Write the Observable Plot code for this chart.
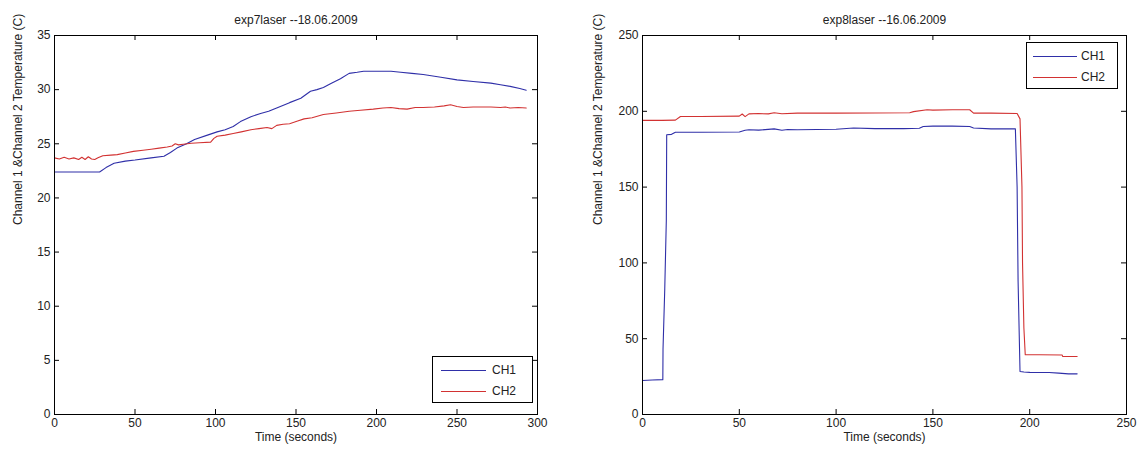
<!DOCTYPE html>
<html>
<head>
<meta charset="utf-8">
<script src="https://cdn.jsdelivr.net/npm/d3@7"></script>
<script src="https://cdn.jsdelivr.net/npm/@observablehq/plot@0.6"></script>
<style>
  html, body { margin: 0; padding: 0; background: #fff; }
  #wrap { position: relative; width: 1142px; height: 456px; display: flex; font-family: "Liberation Sans", Arial, sans-serif; }
  #wrap > svg { flex: none; }
  .legend { position: absolute; }
</style>
</head>
<body>
<div id="wrap"></div>
<script>
// ---------- Chart 1: exp7laser --18.06.2009 ----------
const exp7Title = "exp7laser --18.06.2009";
const exp7XTicks = [0, 50, 100, 150, 200, 250, 300];
const exp7YTicks = [0, 5, 10, 15, 20, 25, 30, 35];
const exp7Ch1Time = [0, 10, 20, 28, 32, 37, 44, 50, 60, 68, 72, 76, 82, 87, 95, 101, 106, 111, 115.5, 122, 128, 133, 138, 146, 153, 159, 163, 167, 172, 177.6, 183, 188, 192, 200, 209, 215, 222, 229, 240, 250, 260, 271, 277, 283, 289, 293];
const exp7Ch1Temp = [22.4, 22.4, 22.4, 22.4, 22.8, 23.2, 23.4, 23.5, 23.7, 23.85, 24.2, 24.6, 25.0, 25.4, 25.8, 26.1, 26.3, 26.6, 27.05, 27.5, 27.8, 28.0, 28.3, 28.8, 29.2, 29.85, 30.0, 30.2, 30.6, 31.0, 31.5, 31.6, 31.7, 31.7, 31.7, 31.6, 31.5, 31.4, 31.15, 30.9, 30.75, 30.6, 30.45, 30.3, 30.1, 29.95];
const exp7Ch2Time = [0, 3, 6, 9, 12, 15, 17, 19, 21, 23, 25, 27, 30, 35, 39, 44, 49, 55, 60, 65, 70, 73, 75, 77, 80, 85, 90, 97, 99, 101, 106, 111, 116, 122, 127, 132, 135, 138, 142, 146, 151, 155, 160, 167, 175, 183, 190, 198, 204, 209, 214, 219, 224, 229, 236, 242, 246, 250, 254, 260, 265, 271, 277, 280, 283, 288, 293];
const exp7Ch2Temp = [23.7, 23.6, 23.75, 23.6, 23.7, 23.55, 23.75, 23.55, 23.8, 23.6, 23.55, 23.7, 23.9, 23.95, 24.0, 24.15, 24.3, 24.4, 24.5, 24.6, 24.7, 24.8, 25.0, 24.9, 24.95, 25.05, 25.1, 25.15, 25.5, 25.7, 25.8, 25.95, 26.1, 26.3, 26.4, 26.5, 26.4, 26.7, 26.8, 26.85, 27.1, 27.3, 27.4, 27.7, 27.85, 28.0, 28.1, 28.2, 28.3, 28.35, 28.25, 28.2, 28.35, 28.35, 28.4, 28.5, 28.6, 28.45, 28.35, 28.4, 28.4, 28.4, 28.35, 28.4, 28.3, 28.35, 28.3];

// ---------- Chart 2: exp8laser --16.06.2009 ----------
const exp8Title = "exp8laser --16.06.2009";
const exp8XTicks = [0, 50, 100, 150, 200, 250];
const exp8YTicks = [0, 50, 100, 150, 200, 250];
const exp8Ch1Time = [0, 5, 10.5, 10.6, 11.5, 12.3, 12.5, 15, 17, 30, 50, 53, 55, 60, 68, 72, 75, 80, 90, 100, 109, 120, 135, 143, 145, 150, 160, 169, 171, 180, 192.6, 193.5, 194, 195, 197, 200, 210, 215, 220, 224.5];
const exp8Ch1Temp = [22.4, 22.8, 23, 43, 83, 128, 184.5, 184.8, 186.2, 186.2, 186.3, 187.5, 187.8, 187.6, 188.4, 187.5, 188.0, 187.8, 188, 188.2, 189, 188.6, 188.6, 188.8, 190, 190.2, 190.2, 190, 189, 188.4, 188.4, 150, 88, 28.4, 28, 27.8, 27.7, 27.3, 26.8, 26.8];
const exp8Ch2Time = [0, 10, 17, 19.6, 30, 50, 51.5, 53, 55, 60, 65, 68, 72, 80, 100, 120, 138, 140, 147, 150, 160, 169, 171, 180, 193.5, 195, 196, 196.3, 197, 197.7, 205, 216.8, 217, 224.5];
const exp8Ch2Temp = [194, 194, 194.2, 196.6, 196.6, 196.8, 198.2, 196.5, 198.3, 198.5, 198.3, 199, 198.4, 198.8, 198.8, 198.9, 199, 199.8, 201, 200.8, 201, 201, 198.8, 198.8, 198.5, 195, 150, 100, 57, 39.4, 39.4, 39.2, 38.3, 38.3];

const seriesNames = ["CH1", "CH2"];
const seriesColors = ["#2f2fa8", "#d23232"];
const yLabel = "Channel 1 &Channel 2 Temperature (C)";
const xLabel = "Time (seconds)";

function rows(time, temp, series) {
  return time.map((t, i) => ({t, v: temp[i], series}));
}

const FONT = "Liberation Sans, Arial, Helvetica, sans-serif";
const W = 571, H = 456, MT = 35, MB = 42, TICK = 5;

function makeChart({title, xTicks, yTicks, marginLeft, marginRight, yLabelDx, data}) {
  const innerW = W - marginLeft - marginRight;
  const innerH = H - MT - MB;
  return Plot.plot({
    width: W,
    height: H,
    marginLeft,
    marginRight,
    marginTop: MT,
    marginBottom: MB,
    style: {fontFamily: FONT, fontSize: "12px", color: "#222", background: "#fff", overflow: "visible"},
    x: {domain: [xTicks[0], xTicks[xTicks.length - 1]], label: null},
    y: {domain: [yTicks[0], yTicks[yTicks.length - 1]], label: null},
    color: {domain: seriesNames, range: seriesColors},
    marks: [
      Plot.line(data, {x: "t", y: "v", stroke: "series", z: "series", strokeWidth: 1.1, curve: "linear"}),
      Plot.frame({stroke: "#000", strokeWidth: 1}),
      // inward ticks on all four sides (MATLAB style)
      Plot.tickX(xTicks, {x: d => d, stroke: "#000", insetTop: innerH - TICK}),
      Plot.tickX(xTicks, {x: d => d, stroke: "#000", insetBottom: innerH - TICK}),
      Plot.tickY(yTicks, {y: d => d, stroke: "#000", insetRight: innerW - TICK}),
      Plot.tickY(yTicks, {y: d => d, stroke: "#000", insetLeft: innerW - TICK}),
      Plot.axisX({ticks: xTicks, tickSize: 0, tickPadding: 4, fontSize: 12, fill: "#222", label: null, tickFormat: d => String(d)}),
      Plot.axisY({ticks: yTicks, tickSize: 0, tickPadding: 4, fontSize: 12, fill: "#222", label: null, tickFormat: d => String(d)}),
      Plot.text([title], {frameAnchor: "top", lineAnchor: "middle", dy: -15, fontSize: 12, fill: "#222"}),
      Plot.text([xLabel], {frameAnchor: "bottom", lineAnchor: "middle", dy: 23, fontSize: 12, fill: "#222"}),
      Plot.text([yLabel], {frameAnchor: "left", dx: yLabelDx, rotate: -90, fontSize: 12, fill: "#222"})
    ]
  });
}

const wrap = document.getElementById("wrap");

const chart1 = makeChart({
  title: exp7Title, xTicks: exp7XTicks, yTicks: exp7YTicks,
  marginLeft: 54, marginRight: 34, yLabelDx: -36,
  data: [...rows(exp7Ch1Time, exp7Ch1Temp, "CH1"), ...rows(exp7Ch2Time, exp7Ch2Temp, "CH2")]
});
const chart2 = makeChart({
  title: exp8Title, xTicks: exp8XTicks, yTicks: exp8YTicks,
  marginLeft: 71, marginRight: 16, yLabelDx: -44,
  data: [...rows(exp8Ch1Time, exp8Ch1Temp, "CH1"), ...rows(exp8Ch2Time, exp8Ch2Temp, "CH2")]
});
wrap.appendChild(chart1);
wrap.appendChild(chart2);

// ---------- Legends (MATLAB-style boxed) ----------
function addLegend(left, top, w, h, lineX1, lineX2, textX) {
  const svg = d3.select(wrap).append("svg")
    .attr("class", "legend")
    .style("left", left + "px").style("top", top + "px")
    .attr("width", w + 1).attr("height", h + 1);
  svg.append("rect").attr("x", 0.5).attr("y", 0.5).attr("width", w - 1).attr("height", h - 1)
    .attr("fill", "#fff").attr("stroke", "#000");
  seriesNames.forEach((name, i) => {
    const cy = 14 + i * 21;
    svg.append("line").attr("x1", lineX1).attr("x2", lineX2).attr("y1", cy + 0.5).attr("y2", cy + 0.5)
      .attr("stroke", seriesColors[i]).attr("stroke-width", 1.2);
    svg.append("text").attr("x", textX).attr("y", cy).attr("dy", "0.35em")
      .attr("font-family", FONT).attr("font-size", 12).attr("fill", "#222").text(name);
  });
}
addLegend(432, 356, 101, 47, 9, 54, 60);
addLegend(1026, 42, 92, 47, 7, 51, 55);
</script>
</body>
</html>
